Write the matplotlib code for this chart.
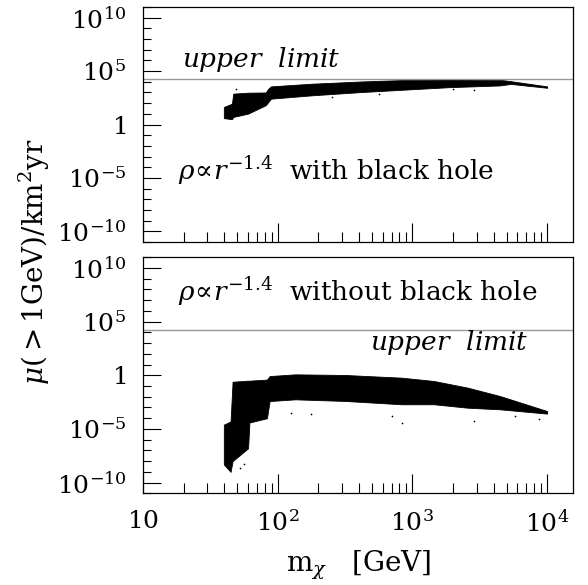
import matplotlib
matplotlib.use("Agg")
import matplotlib.pyplot as plt
import matplotlib.ticker as mticker
import numpy as np

plt.rcParams['font.family'] = 'serif'
plt.rcParams['font.serif'] = ['DejaVu Serif']
plt.rcParams['mathtext.fontset'] = 'dejavuserif'
plt.rcParams['axes.unicode_minus'] = True

## envelope of the scatter cloud (log10 values)
# with black hole
logm_bh = [1.60, 1.66, 1.67, 1.78, 1.91, 1.93, 1.95, 2.25, 2.62, 2.99, 3.28, 3.65, 3.73, 4.00]
hi_bh   = [1.64, 1.95, 2.89, 2.98, 3.00, 3.35, 3.57, 3.82, 4.03, 4.19, 4.22, 4.19, 4.06, 3.57]
lo_bh   = [0.60, 0.50, 0.71, 1.02, 1.80, 2.10, 2.42, 2.73, 3.04, 3.30, 3.50, 3.66, 3.80, 3.44]

# without black hole
logm_nobh = [1.60, 1.65, 1.665, 1.78, 1.79, 1.92, 1.94, 2.13, 2.50, 2.92, 3.16, 3.41, 3.65, 4.00]
hi_nobh   = [-4.6, -4.3, -0.6, -0.5, -0.5, -0.4, -0.07, 0.09, 0.03, -0.22, -0.53, -1.15, -1.93, -3.33]
lo_nobh   = [-8.3, -9.0, -8.0, -6.8, -4.4, -4.0, -2.4, -2.24, -2.39, -2.70, -2.70, -3.02, -3.17, -3.57]

# a few stray points outside the dense band
stray_m_bh = [1.69, 3.30, 3.46, 2.40, 2.75]
stray_y_bh = [3.35, 3.35, 3.19, 2.60, 2.90]
stray_m_nobh = [2.10, 2.25, 2.85, 2.92, 3.46, 3.94, 3.76, 1.72, 1.75]
stray_y_nobh = [-3.48, -3.63, -3.79, -4.41, -4.25, -4.10, -3.79, -8.6, -8.3]

upper_limit = 1.7e4

panels = [
    (logm_bh, hi_bh, lo_bh, stray_m_bh, stray_y_bh),
    (logm_nobh, hi_nobh, lo_nobh, stray_m_nobh, stray_y_nobh),
]


def ytick_fmt(v, pos):
    e = int(round(np.log10(v)))
    if e == 0:
        return r'$1$'
    return r'$10^{%d}$' % e


def xtick_fmt(v, pos):
    e = int(round(np.log10(v)))
    if e == 1:
        return r'$10$'
    return r'$10^{%d}$' % e


fig = plt.figure(figsize=(5.88, 5.85), dpi=100)
ax_top = fig.add_axes([0.2432, 0.5863, 0.7308, 0.4017])
ax_bot = fig.add_axes([0.2432, 0.1567, 0.7308, 0.4035])

for ax, (lm, hi, lo, sm, sy) in zip([ax_top, ax_bot], panels):
    m = 10 ** np.array(lm)
    ax.fill_between(m, 10 ** np.array(lo), 10 ** np.array(hi),
                    color='black', linewidth=0.6, edgecolor='black')
    ax.scatter(10 ** np.array(sm), 10 ** np.array(sy), s=1.5, color='black', linewidths=0)
    ax.axhline(upper_limit, color='#999999', linewidth=1.0)

    ax.set_xscale('log')
    ax.set_yscale('log')
    ax.set_xlim(10, 10 ** 4.19)
    ax.set_ylim(1e-11, 1e11)

    ax.yaxis.set_major_locator(mticker.FixedLocator([1e-10, 1e-5, 1, 1e5, 1e10]))
    ax.yaxis.set_minor_locator(mticker.FixedLocator([10.0 ** k for k in range(-11, 12)]))
    ax.yaxis.set_major_formatter(mticker.FuncFormatter(ytick_fmt))
    ax.yaxis.set_minor_formatter(mticker.NullFormatter())
    ax.xaxis.set_major_locator(mticker.LogLocator(base=10))
    ax.xaxis.set_minor_locator(mticker.LogLocator(base=10, subs=np.arange(2, 10)))
    ax.xaxis.set_minor_formatter(mticker.NullFormatter())

    ax.tick_params(which='both', direction='in', top=False, right=False, width=0.8)
    ax.tick_params(axis='y', which='major', length=13, pad=12, labelsize=18)
    ax.tick_params(axis='y', which='minor', length=6)
    ax.tick_params(axis='x', which='major', length=14, pad=12, labelsize=18)
    ax.tick_params(axis='x', which='minor', length=7)
    for sp in ax.spines.values():
        sp.set_linewidth(0.9)

ax_top.xaxis.set_major_formatter(mticker.NullFormatter())
ax_bot.xaxis.set_major_formatter(mticker.FuncFormatter(xtick_fmt))

ax_top.text(0.09, 0.745, r'$upper\ \ limit$', transform=ax_top.transAxes, fontsize=19)
ax_top.text(0.082, 0.306, r'$\rho\!\propto\! r^{-1.4}$  with black hole',
            transform=ax_top.transAxes, fontsize=19, va='center')
ax_bot.text(0.082, 0.853, r'$\rho\!\propto\! r^{-1.4}$  without black hole',
            transform=ax_bot.transAxes, fontsize=19, va='center')
ax_bot.text(0.528, 0.64, r'$upper\ \ limit$', transform=ax_bot.transAxes, fontsize=19, va='center')

fig.text(0.058, 0.552, r'$\mu(>1\mathrm{GeV})/\mathrm{km^2yr}$', rotation=90,
         fontsize=20, ha='center', va='center')
fig.text(0.61, 0.034, r'$\mathrm{m}_\chi\ \ \ [\mathrm{GeV}]$', fontsize=20,
         ha='center', va='center')

plt.savefig('out.png', dpi=100)
